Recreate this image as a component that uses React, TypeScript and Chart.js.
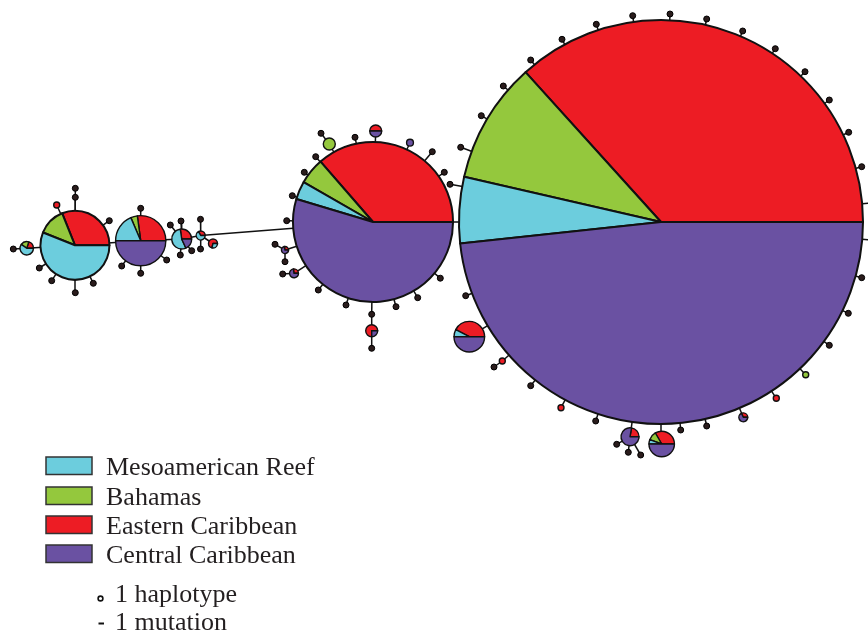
import React, { useEffect, useRef } from "react";
import { Chart, registerables } from "chart.js";

Chart.register(...registerables);

// Populations (legend order) and their colours
const populations = ["Mesoamerican Reef", "Bahamas", "Eastern Caribbean", "Central Caribbean"];
const popColors = ["#6ccddd", "#94c83d", "#ed1c24", "#6a51a2"];

// Sampled haplotypes (pie nodes): id, layout x, layout y, linked haplotype
const pieIds = ["B", "P2", "L", "S", "P3", "P4", "P5", "T", "Q1", "Q2", "Q3", "Q4", "G", "RP", "BP", "PS", "N1", "N2", "r1", "r2", "r3", "r4", "g1"];
const pieX = [661, 373, 75, 140.7, 181.7, 200.7, 213, 26.7, 469.3, 661.7, 630, 743.3, 329.3, 375.7, 371.7, 410, 285, 294, 56.7, 502.3, 561, 776.3, 805.7];
const pieY = [222, 222, 245.3, 240.7, 239, 235.5, 243.5, 248.3, 336.7, 444, 436.7, 417.3, 144, 131, 330.7, 142.7, 250, 273.3, 205, 361, 407.7, 398.3, 374.7];
const pieLink = ["P2", "P4", "S", "P3", "P4", null, "P4", "L", "B", "B", "B", "B", "P2", "P2", "m1", "P2", "P2", "P2", "L", "B", "B", "B", "B"];

// Individuals per population in each haplotype
const mesoamerican = [240, 26, 74, 13, 6, 1.5, 0.65, 3, 2, 1, 0, 0, 0, 0, 0, 0, 0, 0, 0, 0, 0, 0, 0];
const bahamas = [440, 38, 17, 3, 0, 0, 0, 1, 0, 2, 0, 0, 4, 0, 0, 0, 0, 0, 0, 0, 0, 0, 1];
const eastern = [1664, 259, 41, 19, 3, 0.75, 1.6, 1, 11, 6, 2, 0.7, 0, 2, 3, 0, 0.4, 0.6, 1, 1, 1, 1, 0];
const central = [2190, 389, 0, 35, 2, 0, 0, 0, 13, 9, 7, 1.5, 0, 2, 1, 1.3, 1, 1.6, 0, 0, 0, 0, 0];

// Missing / intermediate haplotypes (black dots): id, x, y, linked haplotype
const dotIds = [
  "b1", "b2", "b3", "b4", "b5", "b6", "b7", "b8", "b9", "b10", "b11", "b12", "b13", "b14", "b15", "b16", "b17", "b18", "b19", "b20", "b21", "b22", "b23", "b24", "b25", "b26",
  "c1", "c2", "c3", "c4", "c5", "c6", "c7", "c8", "c9", "c10", "c11", "c12", "m1",
  "e1", "e2", "e3", "e4", "e5", "e6", "e7", "e8", "e9",
  "t1", "m2", "l1", "l2", "l3", "l4", "l5", "l6",
  "s1", "s2", "s3", "s4", "p1", "p2", "p3", "p4", "q1", "q2",
];
const dotX = [
  460.7, 481.3, 503.3, 530.7, 562, 596.3, 632.7, 670, 706.7, 742.7, 775.3, 805, 829.3, 848.7, 861.7, 872, 872, 861.7, 848.3, 829.3, 706.7, 680.7, 595.7, 530.7, 465.7, 450,
  355, 432.3, 444.3, 315.7, 304.3, 292.3, 286.7, 318.3, 346, 396, 417.7, 440.3, 371.7,
  321, 371.7, 275, 285, 282.7, 494, 616.7, 628.3, 640.7,
  13.3, 75.3, 75.3, 109.3, 39.3, 51.7, 75.3, 93.3,
  140.7, 121.7, 140.7, 166.7, 170.3, 181, 191.7, 180.3, 200.5, 200.5,
];
const dotY = [
  147.3, 115.7, 86, 60, 39.3, 24.3, 15.7, 14, 19, 31, 48.7, 71.7, 100, 132.3, 166.7, 203, 240, 277.7, 313.3, 345.3, 426, 430, 421, 385.7, 295.7, 184.3,
  137.3, 151.7, 172.3, 156.7, 172.3, 195.7, 220.7, 290, 305, 306.7, 297.7, 278.2, 314.3,
  133.3, 348.3, 244.3, 261.7, 274, 367, 444.3, 452.3, 455,
  249, 197.3, 188.3, 220.7, 268, 280.7, 292.7, 283.3,
  208.3, 266, 273.3, 260, 225, 221, 250.7, 255, 219.3, 249,
];
const dotLink = [
  "B", "B", "B", "B", "B", "B", "B", "B", "B", "B", "B", "B", "B", "B", "B", "B", "B", "B", "B", "B", "B", "B", "B", "B", "B", "B",
  "P2", "P2", "P2", "P2", "P2", "P2", "P2", "P2", "P2", "P2", "P2", "P2", "P2",
  "G", "BP", "N1", "N1", "N2", "r2", "Q3", "Q3", "Q3",
  "T", "L", "m2", "L", "L", "L", "L", "L",
  "S", "S", "S", "S", "P3", "P3", "P3", "P3", "P4", "P4",
];

const legendMarks = ["1 haplotype", "1 mutation"];

const RADIUS_PER_SQRT = 3;
const drawOrder = [2, 1, 0, 3]; // counter-clockwise from 3 o'clock

function pieCounts(i: number) {
  return [mesoamerican[i], bahamas[i], eastern[i], central[i]];
}

export default function App() {
  const ref = useRef<HTMLCanvasElement | null>(null);

  useEffect(() => {
    document.body.style.margin = "0";
    const canvas = ref.current;
    if (!canvas) return;

    const pos: Record<string, { x: number; y: number }> = {};
    pieIds.forEach((id, i) => (pos[id] = { x: pieX[i], y: pieY[i] }));
    dotIds.forEach((id, i) => (pos[id] = { x: dotX[i], y: dotY[i] }));

    const links: [string, string][] = [];
    pieIds.forEach((id, i) => {
      if (pieLink[i]) links.push([id, pieLink[i] as string]);
    });
    dotIds.forEach((id, i) => links.push([id, dotLink[i]]));

    const lineSets = links.map(([a, b]) => ({
      type: "scatter" as const,
      data: [pos[a], pos[b]],
      showLine: true,
      borderColor: "#111",
      borderWidth: 1.5,
      pointRadius: 0,
      order: 2,
    }));

    const dotSet = {
      type: "scatter" as const,
      data: dotIds.map((id) => pos[id]),
      pointRadius: 3,
      pointBackgroundColor: "#2a1c1c",
      pointBorderColor: "#000",
      pointBorderWidth: 1,
      showLine: false,
      order: 1,
    };

    const piePlugin = {
      id: "haplotypePies",
      afterDatasetsDraw(chart: any) {
        const ctx = chart.ctx as CanvasRenderingContext2D;
        const xs = chart.scales.x;
        const ys = chart.scales.y;
        ctx.save();
        pieIds.forEach((_, i) => {
          const counts = pieCounts(i);
          const total = counts.reduce((s, v) => s + v, 0);
          const cx = xs.getPixelForValue(pieX[i]);
          const cy = ys.getPixelForValue(pieY[i]);
          const r = xs.getPixelForValue(pieX[i] + RADIUS_PER_SQRT * Math.sqrt(total)) - cx;
          const lw = r > 30 ? 2 : 1.4;
          ctx.lineWidth = lw;
          ctx.strokeStyle = "#111";
          ctx.lineJoin = "round";
          const nonZero = counts.filter((v) => v > 0).length;
          if (nonZero <= 1) {
            const k = counts.findIndex((v) => v > 0);
            ctx.beginPath();
            ctx.arc(cx, cy, r, 0, Math.PI * 2);
            ctx.fillStyle = popColors[k];
            ctx.fill();
            ctx.stroke();
            return;
          }
          let cum = 0;
          drawOrder.forEach((k) => {
            const v = counts[k];
            if (v <= 0) return;
            const a0 = -(cum / total) * Math.PI * 2;
            const a1 = -((cum + v) / total) * Math.PI * 2;
            cum += v;
            ctx.beginPath();
            ctx.moveTo(cx, cy);
            ctx.arc(cx, cy, r, a0, a1, true);
            ctx.closePath();
            ctx.fillStyle = popColors[k];
            ctx.fill();
            ctx.stroke();
          });
        });
        ctx.restore();
      },
    };

    const legendPlugin = {
      id: "networkLegend",
      afterDraw(chart: any) {
        const ctx = chart.ctx as CanvasRenderingContext2D;
        ctx.save();
        const rows = [466, 496, 525, 554];
        ctx.font = '26px "Liberation Serif", "Times New Roman", serif';
        ctx.textBaseline = "alphabetic";
        populations.forEach((name, i) => {
          const y = rows[i];
          ctx.fillStyle = popColors[i];
          ctx.fillRect(46, y - 9, 46, 17.5);
          ctx.lineWidth = 1.5;
          ctx.strokeStyle = "#333";
          ctx.strokeRect(46, y - 9, 46, 17.5);
          ctx.fillStyle = "#231f20";
          ctx.fillText(name, 106, y + 9);
        });
        // haplotype symbol
        ctx.beginPath();
        ctx.arc(100.5, 598.5, 2.4, 0, Math.PI * 2);
        ctx.fillStyle = "#fff";
        ctx.fill();
        ctx.lineWidth = 1.6;
        ctx.strokeStyle = "#111";
        ctx.stroke();
        // mutation symbol
        ctx.beginPath();
        ctx.moveTo(98.5, 623.5);
        ctx.lineTo(104, 623.5);
        ctx.lineWidth = 2;
        ctx.stroke();
        ctx.fillStyle = "#231f20";
        ctx.fillText(legendMarks[0], 115, 602);
        ctx.fillText(legendMarks[1], 115, 629.5);
        ctx.restore();
      },
    };

    const chart = new Chart(canvas, {
      type: "scatter",
      data: { datasets: [dotSet as any, ...(lineSets as any[])] },
      options: {
        responsive: false,
        maintainAspectRatio: false,
        animation: false,
        layout: { padding: 0, autoPadding: false },
        plugins: { legend: { display: false }, tooltip: { enabled: false } },
        scales: {
          x: { type: "linear", min: 0, max: 868, display: false },
          y: { type: "linear", min: 0, max: 631, reverse: true, display: false },
        },
      },
      plugins: [piePlugin, legendPlugin],
    });

    return () => chart.destroy();
  }, []);

  return (
    <div style={{ position: "absolute", left: 0, top: 0, width: 868, height: 631, background: "#fff" }}>
      <canvas ref={ref} width={868} height={631} style={{ display: "block" }} />
    </div>
  );
}
